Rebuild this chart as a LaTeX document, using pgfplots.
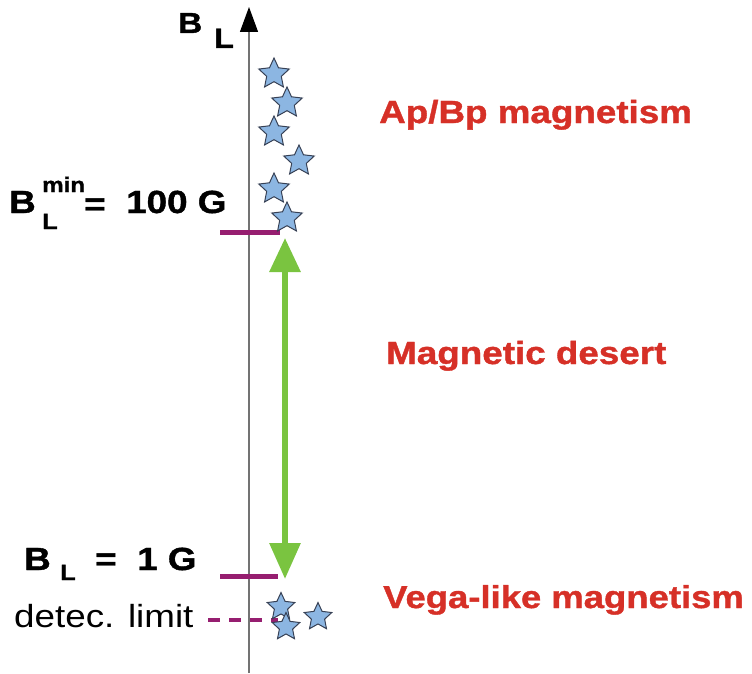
\documentclass[border=0pt]{standalone}
\usepackage{fontspec}
\setmainfont{Liberation Sans}[FakeStretch=1.15, BoldFeatures={FakeBold=1.2}]
\usepackage{pgfplots}
\pgfplotsset{compat=1.18}
\usetikzlibrary{arrows.meta}

\definecolor{starblue}{RGB}{140,182,226}
\definecolor{staredge}{RGB}{55,65,85}
\definecolor{txtred}{RGB}{214,48,39}
\definecolor{lnpurple}{RGB}{150,30,112}
\definecolor{arrgreen}{RGB}{122,196,64}
\definecolor{axgray}{RGB}{115,115,115}

% filled five-pointed star
\pgfdeclareplotmark{fstar}{%
  \pgfpathmoveto{\pgfpointpolar{90}{\pgfplotmarksize}}%
  \pgfpathlineto{\pgfpointpolar{126}{0.48\pgfplotmarksize}}%
  \pgfpathlineto{\pgfpointpolar{162}{\pgfplotmarksize}}%
  \pgfpathlineto{\pgfpointpolar{198}{0.48\pgfplotmarksize}}%
  \pgfpathlineto{\pgfpointpolar{234}{\pgfplotmarksize}}%
  \pgfpathlineto{\pgfpointpolar{270}{0.48\pgfplotmarksize}}%
  \pgfpathlineto{\pgfpointpolar{306}{\pgfplotmarksize}}%
  \pgfpathlineto{\pgfpointpolar{342}{0.48\pgfplotmarksize}}%
  \pgfpathlineto{\pgfpointpolar{18}{\pgfplotmarksize}}%
  \pgfpathlineto{\pgfpointpolar{54}{0.48\pgfplotmarksize}}%
  \pgfpathclose
  \pgfusepathqfillstroke}

\begin{document}
\begin{tikzpicture}
\begin{axis}[
    width=752bp, height=673bp, scale only axis,
    xmin=0, xmax=752, ymin=0, ymax=673,
    y dir=reverse,
    hide axis,
    clip=false,
]

% vertical B_L axis
\addplot[axgray, line width=1.2bp, -{Triangle[width=18bp,length=25bp,black]}]
    coordinates {(249,673) (249,7)};

% thresholds
\addplot[lnpurple, line width=5bp] coordinates {(220,232) (280,232)};
\addplot[lnpurple, line width=5bp] coordinates {(220,576) (278,576)};
\addplot[lnpurple, line width=4bp, dash pattern=on 12bp off 9bp]
    coordinates {(208,620) (278,620)};

% magnetic desert
\addplot[arrgreen, line width=6bp,
    {Triangle[width=30bp,length=34bp]}-{Triangle[width=30bp,length=36bp]}]
    coordinates {(285,238) (285,579)};

% stars
\addplot[only marks, mark=fstar, mark size=16bp,
    mark options={fill=starblue, draw=staredge, line width=1bp}]
    coordinates {
    (274,74) (287,103) (274,132) (299,161) (274,189) (287,218)
};
\addplot[only marks, mark=fstar, mark size=14.5bp,
    mark options={fill=starblue, draw=staredge, line width=1bp}]
    coordinates {
    (281,607) (318,617) (286,627)
};

% labels
\tikzset{lab/.style={anchor=base west, inner sep=0pt}}
\node[lab, font=\fontsize{29bp}{32bp}\selectfont\bfseries] at (axis cs:178,33) {B};
\node[lab, font=\fontsize{28bp}{30bp}\selectfont\bfseries] at (axis cs:214,48) {L};

\node[lab, font=\fontsize{32bp}{36bp}\selectfont\bfseries] at (axis cs:9,213) {B};
\node[lab, font=\fontsize{22bp}{26bp}\selectfont\bfseries] at (axis cs:42,229) {L};
\node[lab, font=\fontsize{21bp}{26bp}\selectfont\bfseries] at (axis cs:42,192) {min};
\node[lab, font=\fontsize{32bp}{36bp}\selectfont\bfseries] at (axis cs:84,215) {=};
\node[lab, font=\fontsize{32bp}{36bp}\selectfont\bfseries] at (axis cs:126,213) {100 G};

\node[lab, font=\fontsize{32bp}{36bp}\selectfont\bfseries] at (axis cs:24,570) {B};
\node[lab, font=\fontsize{22bp}{26bp}\selectfont\bfseries] at (axis cs:60,580) {L};
\node[lab, font=\fontsize{32bp}{36bp}\selectfont\bfseries] at (axis cs:95,570) {=};
\node[lab, font=\fontsize{32bp}{36bp}\selectfont\bfseries] at (axis cs:137,570) {1 G};

\node[lab, font=\fontsize{32bp}{36bp}\selectfont] at (axis cs:14,627) {detec. limit};

\node[lab, text=txtred, font=\fontsize{32bp}{36bp}\selectfont\bfseries] at (axis cs:379,123) {Ap/Bp magnetism};
\node[lab, text=txtred, font=\fontsize{32bp}{36bp}\selectfont\bfseries] at (axis cs:386,364) {Magnetic desert};
\node[lab, text=txtred, font=\fontsize{31.7bp}{36bp}\selectfont\bfseries] at (axis cs:383,608) {Vega-like magnetism};

\end{axis}
\path (current axis.south west) rectangle (current axis.north east);
\end{tikzpicture}
\end{document}
